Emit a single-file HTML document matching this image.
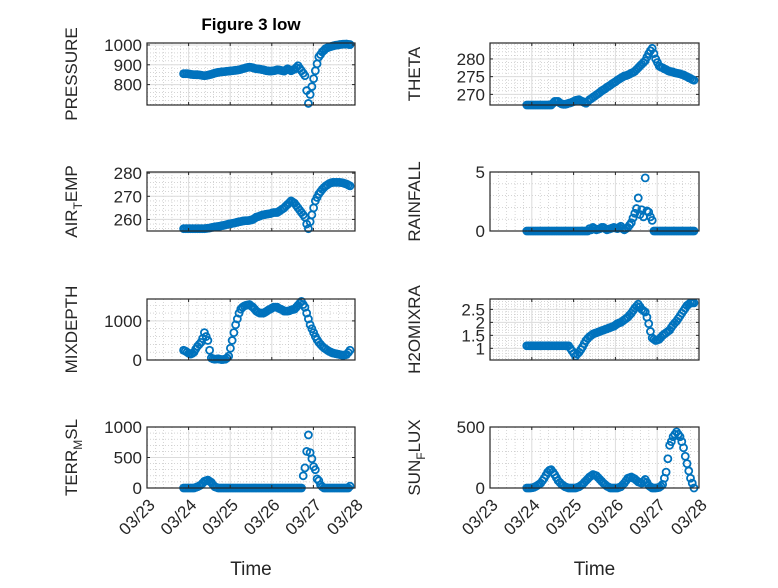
<!DOCTYPE html>
<html><head><meta charset="utf-8"><style>
body{margin:0;background:#fff}
svg text{font-family:"Liberation Sans","DejaVu Sans",sans-serif;fill:#262626}
</style></head><body>
<svg id="fig" width="778" height="583" viewBox="0 0 778 583" xmlns="http://www.w3.org/2000/svg">
<rect width="778" height="583" fill="#fff"/>
<text x="251" y="30" text-anchor="middle" font-size="17" font-weight="bold" style="fill:#000">Figure 3 low</text>
</svg>
<script>
const startDay = 0.88;
const stepDay = 1/24;
const dayTicks = [0,1,2,3,4,5];
const dayLabels = ["03/23","03/24","03/25","03/26","03/27","03/28"];
const pressure = [855,855,855,854,852,851,850,850,850,849,848,846,845,846,848,850,852,855,858,860,862,863,865,865,866,867,868,869,870,871,872,873,875,877,880,882,885,887,888,887,885,882,880,879,878,876,875,872,870,869,868,869,870,872,875,874,872,870,868,874,880,875,870,874,878,886,895,882,870,858,845,770,705,750,790,830,870,905,940,952,965,973,982,986,990,992,995,997,999,1000,1002,1003,1004,1004,1005,1003,1002];
const theta = [267,267,267,267,267,267,267,267,267,267,267,267,267,267,267,267.5,268,268,268,267.6,267.3,267.2,267.2,267.3,267.5,267.6,267.8,268,268.3,268.4,268.5,268.2,268,267.7,267.5,268,268.5,268.8,269.2,269.5,269.9,270.2,270.6,271,271.3,271.6,272,272.3,272.6,273,273.3,273.6,274,274.3,274.6,274.9,275.2,275.3,275.5,275.7,276,276.2,276.5,277,277.5,278,278.5,279,279.5,280.5,281.5,282.3,283,281.5,280,279,278,277.7,277.5,277.2,277,276.7,276.5,276.4,276.3,276.1,276,275.9,275.8,275.6,275.5,275.2,275,274.7,274.5,274.2,274];
const airTemp = [256,256,256,256,256,256,256,256,256,256,256,256,256,256.1,256.2,256.3,256.5,256.6,256.8,256.9,257,257.1,257.3,257.4,257.6,257.8,258,258.1,258.3,258.4,258.6,258.8,259,259.1,259.3,259.4,259.5,259.5,259.6,259.8,260,260.5,261,261.2,261.5,261.8,262,262.1,262.3,262.4,262.5,262.8,263,263,263,263.5,264,264.5,265,265.8,266.5,267.2,268,267.5,267,266,265,264,263,262,261,258,256,259,262,265,268,269.5,271,272,273,273.8,274.5,275,275.5,275.8,276,276,276,276,276,275.9,275.8,275.5,275.3,274.9,274.5];
const rainfall = [0,0,0,0,0,0,0,0,0,0,0,0,0,0,0,0,0,0,0,0,0,0,0,0,0,0,0,0,0,0,0,0,0,0,0,0,0.2,0.1,0.3,0.2,0.1,0.15,0.2,0.3,0.3,0.2,0.1,0.15,0.2,0.25,0.3,0.25,0.2,0.3,0.4,0.2,0.1,0.2,0.3,0.5,0.7,1.1,1.5,1.9,2.8,1.4,1.8,1.2,4.5,1.7,1.6,1.2,0.9,0,0,0,0,0,0,0,0,0,0,0,0,0,0,0,0,0,0,0,0,0,0,0,0];
const mixDepth = [250,230,200,170,150,170,200,280,350,400,450,550,700,600,500,250,50,30,20,25,30,20,10,15,20,50,100,300,500,700,900,1050,1200,1300,1350,1380,1400,1410,1420,1380,1350,1300,1250,1220,1200,1200,1200,1220,1250,1280,1300,1330,1350,1350,1350,1320,1300,1280,1250,1250,1250,1260,1280,1290,1300,1350,1400,1450,1500,1420,1350,1200,1050,900,800,700,600,520,450,400,350,310,280,250,220,200,180,170,160,150,140,130,120,130,140,190,250];
const h2oMix = [1.1,1.1,1.1,1.1,1.1,1.1,1.1,1.1,1.1,1.1,1.1,1.1,1.1,1.1,1.1,1.1,1.1,1.1,1.1,1.1,1.1,1.1,1.1,1.1,1.1,1.0,0.9,0.8,0.7,0.78,0.85,0.95,1.05,1.18,1.3,1.38,1.45,1.5,1.55,1.58,1.6,1.63,1.65,1.68,1.7,1.73,1.75,1.78,1.8,1.83,1.85,1.9,1.95,1.98,2.0,2.05,2.1,2.15,2.2,2.28,2.35,2.45,2.55,2.62,2.7,2.6,2.5,2.45,2.4,2.2,1.95,1.65,1.4,1.35,1.3,1.32,1.35,1.42,1.5,1.55,1.6,1.65,1.7,1.8,1.9,1.98,2.05,2.15,2.25,2.35,2.45,2.55,2.65,2.7,2.75,2.75,2.75];
const terrMsl = [0,0,0,0,0,0,0,10,20,35,50,80,110,120,130,110,90,50,20,10,0,0,0,0,0,0,0,0,0,0,0,0,0,0,0,0,0,0,0,0,0,0,0,0,0,0,0,0,0,0,0,0,0,0,0,0,0,0,0,0,0,0,0,0,0,0,0,0,0,200,330,600,870,580,480,350,300,150,120,50,20,0,0,0,0,0,0,0,0,0,0,0,0,0,0,0,30];
const sunFlux = [0,0,0,2,5,12,20,30,40,60,80,105,130,145,150,130,110,85,60,45,30,20,10,5,0,0,0,0,0,5,10,20,30,45,60,75,90,100,110,105,100,85,70,55,40,28,15,8,0,0,0,0,0,5,10,25,40,60,80,85,90,82,75,62,50,45,40,55,70,45,20,10,0,0,0,2,5,15,30,80,130,240,350,380,420,440,460,440,420,380,330,260,200,140,80,40,0];
const pressureTicks = [800,900,1000];
const thetaTicks = [270,275,280];
const airTicks = [260,270,280];
const rainTicks = [0,5];
const mixTicks = [0,1000];
const h2oTicks = [1,1.5,2,2.5];
const terrTicks = [0,500,1000];
const sunTicks = [0,500];

const NS="http://www.w3.org/2000/svg";
const svg=document.getElementById('fig');
function mk(tag,attrs,parent){const e=document.createElementNS(NS,tag);for(const k in attrs)e.setAttribute(k,attrs[k]);(parent||svg).appendChild(e);return e;}

const L={x0:147,x1:355}, R={x0:490,x1:699};
const rows=[[43,105],[172,231],[299,360],[427,488]];

function panel(name,col,row,series,ymin,ymax,ticks,minorStep,labelParts,showX){
  const x0=col.x0,x1=col.x1,y0=rows[row][0],y1=rows[row][1];
  const g=mk('g',{});
  
  
  const xs=d=>x0+(d-0)/5*(x1-x0);
  const ys=v=>y1-(v-ymin)/(ymax-ymin)*(y1-y0);
  mk('rect',{x:x0,y:y0,width:x1-x0,height:y1-y0,fill:'#fff'},g);
  for(let d=0;d<5;d++)for(let m=1;m<5;m++){const x=xs(d+m/5);mk('line',{x1:x,x2:x,y1:y0,y2:y1,stroke:'#bbb','stroke-width':0.6,'stroke-dasharray':'1,2'},g);}
  if(minorStep){for(let v=Math.ceil(ymin/minorStep)*minorStep;v<=ymax;v+=minorStep){const y=ys(v);mk('line',{x1:x0,x2:x1,y1:y,y2:y,stroke:'#bbb','stroke-width':0.6,'stroke-dasharray':'1,2'},g);}}
  dayTicks.forEach(d=>{const x=xs(d);mk('line',{x1:x,x2:x,y1:y0,y2:y1,stroke:'#dcdcdc','stroke-width':1},g);});
  ticks.forEach(v=>{const y=ys(v);mk('line',{x1:x0,x2:x1,y1:y,y2:y,stroke:'#dcdcdc','stroke-width':1},g);});
  const cg=mk('g',{},g);
  series.forEach((v,i)=>{const c=mk('circle',{cx:xs(startDay+i*stepDay),cy:ys(v),r:3.5,fill:'none',stroke:'#0072BD','stroke-width':1.8},cg);
    
    });
  mk('rect',{x:x0,y:y0,width:x1-x0,height:y1-y0,fill:'none',stroke:'#262626','stroke-width':1.2},g);
  dayTicks.forEach(d=>{const x=xs(d);mk('line',{x1:x,x2:x,y1:y1,y2:y1-3,stroke:'#262626'},g);mk('line',{x1:x,x2:x,y1:y0,y2:y0+3,stroke:'#262626'},g);});
  ticks.forEach(v=>{const y=ys(v);mk('line',{x1:x0,x2:x0+3,y1:y,y2:y,stroke:'#262626'},g);mk('line',{x1:x1,x2:x1-3,y1:y,y2:y,stroke:'#262626'},g);
    const t=mk('text',{x:x0-5,y:y+6,'text-anchor':'end','font-size':17},g);t.textContent=String(v);
    
    });
  const lx=x0-70, ly=(y0+y1)/2;
  const t=mk('text',{x:lx,y:ly,'text-anchor':'middle','font-size':17,transform:`rotate(-90 ${lx} ${ly})`},g);
  
  
  labelParts.forEach((p,i)=>{const ts=mk('tspan',{},t);ts.textContent=p;
    if(i%2===1){ts.setAttribute('font-size',12);ts.setAttribute('dy',5);} else if(i>0){ts.setAttribute('dy',-5);}});
  if(showX){
    dayTicks.forEach((d,i)=>{const x=xs(d);const ax=x+9, ay=y1+18;const tx=mk('text',{x:ax,y:ay,'text-anchor':'end','font-size':17,transform:`rotate(-45 ${ax} ${ay})`},g);tx.textContent=dayLabels[i];
      
      });
    const xl=mk('text',{x:(x0+x1)/2,y:575,'text-anchor':'middle','font-size':19},g);xl.textContent='Time';
    
    
  }
}
panel('pressure',L,0,pressure,697,1010,pressureTicks,20,['PRESSURE'],false);
panel('theta',R,0,theta,267,284.5,thetaTicks,1,['THETA'],false);
panel('air-temp',L,1,airTemp,255,280.5,airTicks,2,['AIR','T','EMP'],false);
panel('rainfall',R,1,rainfall,0,5,rainTicks,1,['RAINFALL'],false);
panel('mixdepth',L,2,mixDepth,0,1560,mixTicks,200,['MIXDEPTH'],false);
panel('h2omixra',R,2,h2oMix,0.55,2.9,h2oTicks,0.1,['H2OMIXRA'],false);
panel('terr-msl',L,3,terrMsl,0,1000,terrTicks,100,['TERR','M','SL'],true);
panel('sun-flux',R,3,sunFlux,0,500,sunTicks,100,['SUN','F','LUX'],true);
</script>
</body></html>
